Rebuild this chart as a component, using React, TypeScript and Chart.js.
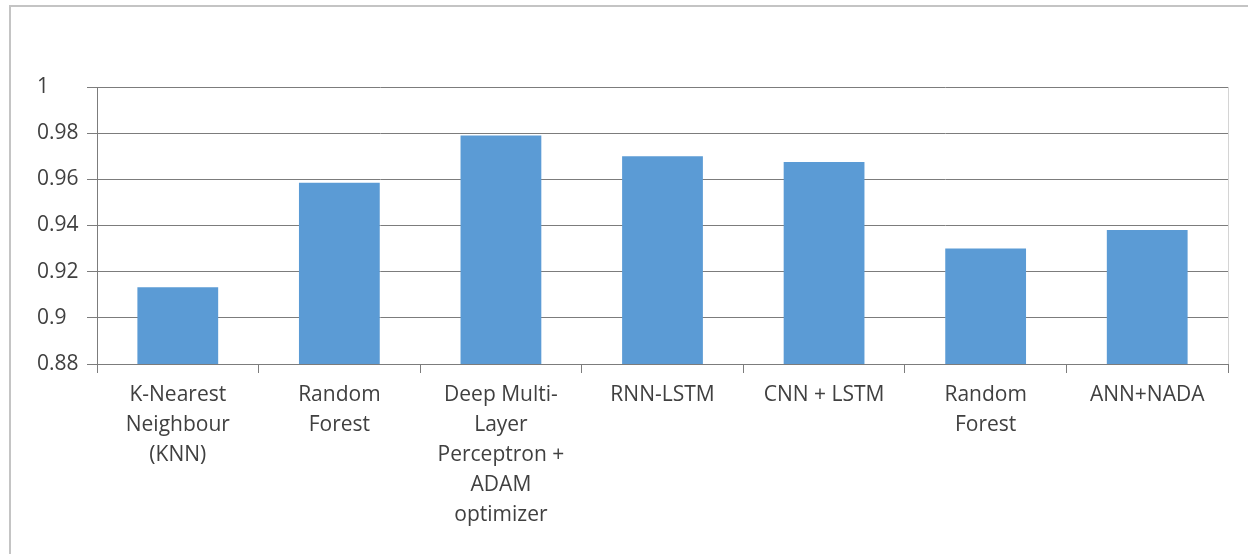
import React, { useEffect, useRef } from "react";
import { Chart, registerables } from "chart.js";

Chart.register(...registerables);

// Accuracy per model
const categories: string[][] = [
  ["K-Nearest", "Neighbour", "(KNN)"],
  ["Random", "Forest"],
  ["Deep Multi-", "Layer", "Perceptron +", "ADAM", "optimizer"],
  ["RNN-LSTM"],
  ["CNN + LSTM"],
  ["Random", "Forest"],
  ["ANN+NADA"],
];
const accuracy: number[] = [0.9133, 0.9585, 0.979, 0.970, 0.9675, 0.930, 0.938];
const yTickValues: number[] = [0.88, 0.9, 0.92, 0.94, 0.96, 0.98, 1];
const yTickLabels: string[] = ["0.88", "0.9", "0.92", "0.94", "0.96", "0.98", "1"];

const FONT = "'Open Sans', 'Liberation Sans', sans-serif";
const AXIS_GREY = "#7c7c7c";

// Thin light frame on the right side of the plot area
const plotFrame = {
  id: "plotFrame",
  afterDraw(chart: any) {
    const { ctx, chartArea } = chart;
    ctx.save();
    ctx.strokeStyle = "#d4d4d4";
    ctx.lineWidth = 1;
    ctx.beginPath();
    ctx.moveTo(Math.round(chartArea.right) + 0.5, chartArea.top);
    ctx.lineTo(Math.round(chartArea.right) + 0.5, chartArea.bottom);
    ctx.stroke();
    ctx.restore();
  },
};

export default function App() {
  const canvasRef = useRef<HTMLCanvasElement | null>(null);

  useEffect(() => {
    if (!canvasRef.current) return;
    const chart = new Chart(canvasRef.current, {
      type: "bar",
      data: {
        labels: categories,
        datasets: [
          {
            data: accuracy,
            backgroundColor: "#5B9BD5",
            borderWidth: 0,
            barPercentage: 0.5,
            categoryPercentage: 1,
          },
        ],
      },
      options: {
        animation: false,
        responsive: false,
        maintainAspectRatio: false,
        layout: { padding: { left: 37, top: 87, right: 20, bottom: 0 } },
        plugins: {
          legend: { display: false },
          tooltip: { enabled: false },
        },
        scales: {
          x: {
            afterFit(scale: any) {
              scale.height = 190;
            },
            grid: {
              offset: true,
              drawOnChartArea: false,
              drawTicks: true,
              tickLength: 9,
              color: AXIS_GREY,
            },
            border: { color: AXIS_GREY },
            ticks: {
              color: "#404040",
              font: { family: FONT, size: 21, lineHeight: 30 / 21 },
              padding: 7,
              maxRotation: 0,
              autoSkip: false,
            },
          },
          y: {
            min: 0.88,
            max: 1,
            afterFit(scale: any) {
              scale.width = 60;
            },
            afterBuildTicks(scale: any) {
              scale.ticks = yTickValues.map((v) => ({ value: v }));
            },
            grid: {
              color: AXIS_GREY,
              tickLength: 10,
            },
            border: { color: AXIS_GREY },
            ticks: {
              crossAlign: "far",
              color: "#404040",
              font: { family: FONT, size: 21 },
              callback: (_v: any, i: number) => yTickLabels[i],
            },
          },
        },
      },
      plugins: [plotFrame],
    });
    return () => chart.destroy();
  }, []);

  return (
    <div
      style={{
        position: "absolute",
        left: 0,
        top: 0,
        width: 1248,
        height: 554,
        overflow: "hidden",
        background: "#fff",
      }}
    >
      <div
        style={{
          position: "absolute",
          left: 9,
          top: 5,
          width: 1400,
          height: 700,
          borderLeft: "2px solid #c4c4c4",
          borderTop: "2px solid #c4c4c4",
        }}
      />
      <canvas
        ref={canvasRef}
        width={1248}
        height={554}
        style={{ position: "absolute", left: 0, top: 0, width: 1248, height: 554 }}
      />
    </div>
  );
}
